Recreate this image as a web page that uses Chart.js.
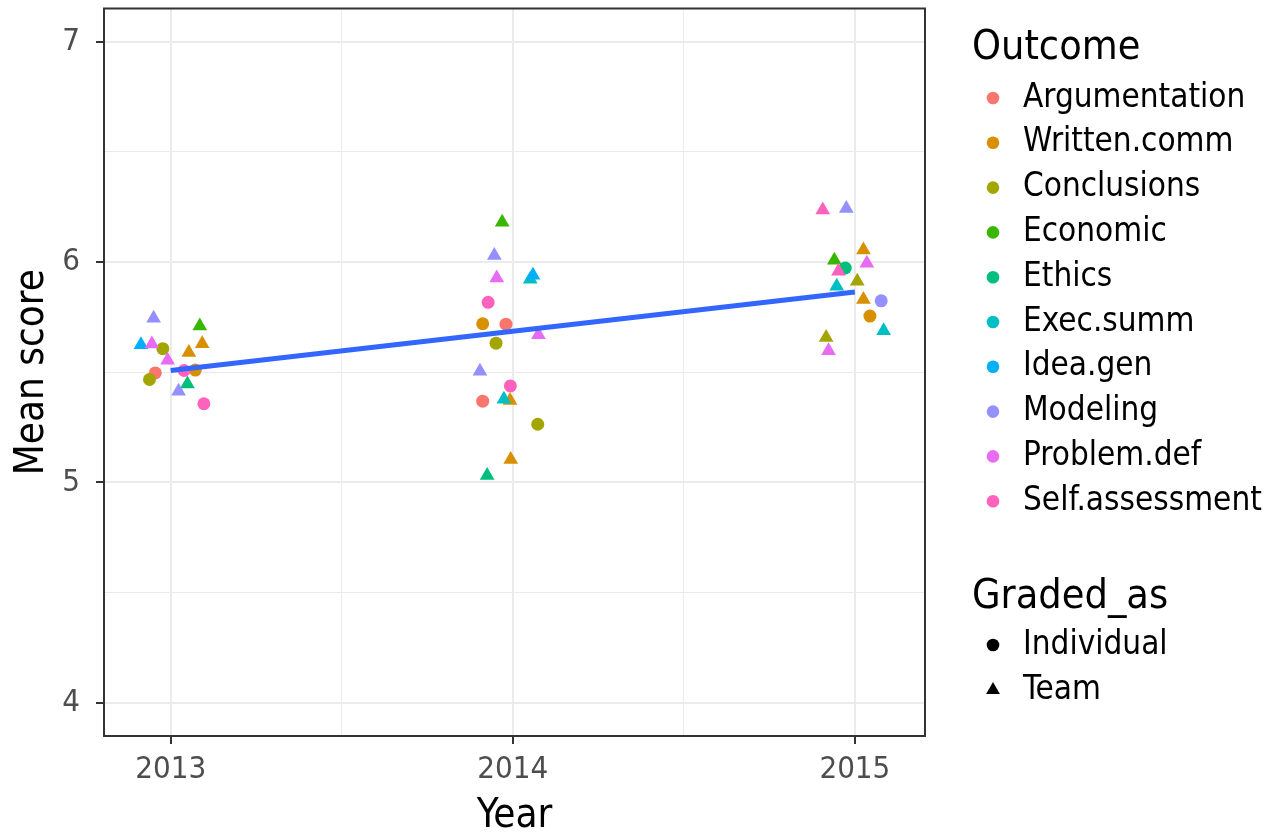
<!DOCTYPE html>
<html>
<head>
<meta charset="utf-8">
<title>Mean score by year</title>
<script src="https://cdn.jsdelivr.net/npm/chart.js@4/dist/chart.umd.min.js"></script>
<style>
  html, body { margin: 0; padding: 0; background: #ffffff; }
  canvas { display: block; }
</style>
</head>
<body>
<canvas id="chart" width="1276" height="834"></canvas>
<script>
// Outcome levels and their hue palette
const outcomes = ['Argumentation', 'Written.comm', 'Conclusions', 'Economic', 'Ethics',
                  'Exec.summ', 'Idea.gen', 'Modeling', 'Problem.def', 'Self.assessment'];
const outcomeColors = ['#F8766D', '#D89000', '#A3A500', '#39B600', '#00BF7D',
                       '#00BFC4', '#00B0F6', '#9590FF', '#E76BF3', '#FF62BC'];
const gradedLevels = ['Individual', 'Team'];

// One entry per observation: survey year, jittered x position, mean score, outcome, grading
const pointYear = [
  2013, 2013, 2013, 2013, 2013, 2013, 2013, 2013, 2013, 2013, 2013, 2013, 2013, 2013, 2013,
  2014, 2014, 2014, 2014, 2014, 2014, 2014, 2014, 2014, 2014, 2014, 2014, 2014, 2014, 2014, 2014, 2014, 2014,
  2015, 2015, 2015, 2015, 2015, 2015, 2015, 2015, 2015, 2015, 2015, 2015, 2015, 2015, 2015
];
const pointX = [
  2012.950, 2013.085, 2012.913, 2012.945, 2012.977, 2013.092, 2013.053, 2012.991,
  2013.072, 2013.039, 2012.955, 2012.938, 2013.049, 2013.023, 2013.097,
  2013.969, 2013.946, 2013.953, 2014.059, 2014.051, 2013.928, 2013.912, 2013.980, 2014.075,
  2013.951, 2013.904, 2013.993, 2013.912, 2013.974, 2013.992, 2014.073, 2013.994, 2013.925,
  2014.906, 2014.975, 2015.025, 2014.940, 2014.972, 2015.035, 2014.952, 2015.007,
  2014.947, 2015.025, 2015.077, 2015.044, 2015.084, 2014.916, 2014.923
];
const pointScore = [
  5.745, 5.710, 5.625, 5.628, 5.607, 5.629, 5.590, 5.555,
  5.510, 5.508, 5.497, 5.467, 5.447, 5.414, 5.357,
  6.180, 6.030, 5.928, 5.940, 5.922, 5.817, 5.720, 5.718, 5.670,
  5.632, 5.505, 5.438, 5.369, 5.377, 5.372, 5.264, 5.104, 5.032,
  6.236, 6.243, 6.055, 6.008, 5.973, 5.995, 5.958, 5.913,
  5.890, 5.830, 5.824, 5.755, 5.688, 5.658, 5.598
];
const pointOutcome = [
  'Modeling', 'Economic', 'Idea.gen', 'Problem.def', 'Conclusions', 'Written.comm', 'Written.comm', 'Problem.def',
  'Written.comm', 'Self.assessment', 'Argumentation', 'Conclusions', 'Ethics', 'Modeling', 'Self.assessment',
  'Economic', 'Modeling', 'Problem.def', 'Idea.gen', 'Exec.summ', 'Self.assessment', 'Written.comm', 'Argumentation', 'Problem.def',
  'Conclusions', 'Modeling', 'Self.assessment', 'Argumentation', 'Exec.summ', 'Written.comm', 'Conclusions', 'Written.comm', 'Ethics',
  'Self.assessment', 'Modeling', 'Written.comm', 'Economic', 'Ethics', 'Problem.def', 'Self.assessment', 'Conclusions',
  'Exec.summ', 'Written.comm', 'Modeling', 'Written.comm', 'Exec.summ', 'Conclusions', 'Problem.def'
];
const pointGraded = [
  'Team', 'Team', 'Team', 'Team', 'Individual', 'Team', 'Team', 'Team',
  'Individual', 'Individual', 'Individual', 'Individual', 'Team', 'Team', 'Individual',
  'Team', 'Team', 'Team', 'Team', 'Team', 'Individual', 'Individual', 'Individual', 'Team',
  'Individual', 'Team', 'Individual', 'Individual', 'Team', 'Team', 'Individual', 'Team', 'Team',
  'Team', 'Team', 'Team', 'Team', 'Individual', 'Team', 'Team', 'Team',
  'Team', 'Team', 'Individual', 'Individual', 'Team', 'Team', 'Team'
];

// Axis breaks
const xGridValues = [2013, 2013.5, 2014, 2014.5, 2015];
const xTickValues = [2013, 2014, 2015];
const xTickLabels = ['2013', '2014', '2015'];
const yGridValues = [4, 4.5, 5, 5.5, 6, 6.5, 7];
const yTickValues = [4, 5, 6, 7];
const yTickLabels = ['4', '5', '6', '7'];

const FONT = '"DejaVu Sans Condensed", "DejaVu Sans", sans-serif';

// Ordinary least squares fit of score on year
function linearFit(xs, ys) {
  const n = xs.length;
  const mx = xs.reduce((a, b) => a + b, 0) / n;
  const my = ys.reduce((a, b) => a + b, 0) / n;
  let sxy = 0, sxx = 0;
  for (let i = 0; i < n; i++) {
    sxy += (xs[i] - mx) * (ys[i] - my);
    sxx += (xs[i] - mx) * (xs[i] - mx);
  }
  const slope = sxy / sxx;
  return x => my + slope * (x - mx);
}
const fit = linearFit(pointYear, pointScore);
const fitStart = Math.min(...pointYear);
const fitEnd = Math.max(...pointYear);

const datasets = [{
  type: 'line',
  label: 'trend',
  data: [{ x: fitStart, y: fit(fitStart) }, { x: fitEnd, y: fit(fitEnd) }],
  borderColor: '#3366FF',
  borderWidth: 5,
  borderCapStyle: 'butt',
  pointRadius: 0,
  fill: false,
  order: 0
}];

outcomes.forEach((name, i) => {
  const idx = [];
  pointOutcome.forEach((o, k) => { if (o === name) idx.push(k); });
  datasets.push({
    type: 'scatter',
    label: name,
    data: idx.map(k => ({ x: pointX[k], y: pointScore[k] })),
    pointStyle: idx.map(k => pointGraded[k] === 'Team' ? 'triangle' : 'circle'),
    pointRadius: idx.map(k => pointGraded[k] === 'Team' ? 8.5 : 6.5),
    backgroundColor: outcomeColors[i],
    borderWidth: 0,
    order: outcomes.length - i
  });
});

const gridColor = '#ebebeb';
function gridWidth(major) { return c => major.includes(c.tick.value) ? 2 : 1; }
function tickMarkColor(major) { return c => major.includes(c.tick.value) ? '#333333' : 'rgba(0,0,0,0)'; }

// Panel border and the two-part legend on the right
const panelAndLegend = {
  id: 'panelAndLegend',
  afterDraw(chart) {
    const { ctx, chartArea: a } = chart;
    ctx.save();
    ctx.strokeStyle = '#333333';
    ctx.lineWidth = 2;
    ctx.strokeRect(a.left, a.top, a.right - a.left, a.bottom - a.top);

    ctx.fillStyle = '#000000';
    ctx.textAlign = 'left';
    ctx.textBaseline = 'middle';
    ctx.font = '41px ' + FONT;
    ctx.fillText('Outcome', 972, 48);

    const rowStart = 98, rowStep = 44.8, keyX = 993, textX = 1023;
    outcomes.forEach((name, i) => {
      const y = rowStart + i * rowStep;
      ctx.fillStyle = outcomeColors[i];
      ctx.beginPath();
      ctx.arc(keyX, y, 6.3, 0, Math.PI * 2);
      ctx.fill();
      ctx.fillStyle = '#000000';
      ctx.font = '33px ' + FONT;
      ctx.fillText(name, textX, y);
    });

    ctx.font = '41px ' + FONT;
    ctx.fillText('Graded_as', 972, 597);
    gradedLevels.forEach((name, i) => {
      const y = 645 + i * 45;
      ctx.fillStyle = '#000000';
      if (name === 'Team') {
        const r = 8;
        ctx.beginPath();
        ctx.moveTo(keyX, y - r);
        ctx.lineTo(keyX + r * Math.sqrt(3) / 2, y + r / 2);
        ctx.lineTo(keyX - r * Math.sqrt(3) / 2, y + r / 2);
        ctx.closePath();
        ctx.fill();
      } else {
        ctx.beginPath();
        ctx.arc(keyX, y, 6.3, 0, Math.PI * 2);
        ctx.fill();
      }
      ctx.font = '33px ' + FONT;
      ctx.fillText(name, textX, y);
    });
    ctx.restore();
  }
};

new Chart(document.getElementById('chart'), {
  data: { datasets },
  plugins: [panelAndLegend],
  options: {
    responsive: false,
    animation: false,
    events: [],
    layout: { padding: { left: 0, right: 351, top: 5, bottom: 0 } },
    plugins: { legend: { display: false }, tooltip: { enabled: false } },
    scales: {
      x: {
        type: 'linear',
        position: 'bottom',
        min: 2012.805,
        max: 2015.205,
        afterBuildTicks: s => { s.ticks = xGridValues.map(v => ({ value: v })); },
        afterFit: s => { s.height = 98; s.paddingLeft = 0; s.paddingRight = 0; },
        border: { display: false },
        grid: {
          color: gridColor,
          lineWidth: gridWidth(xTickValues),
          drawTicks: true,
          tickLength: 8,
          tickWidth: 2,
          tickColor: tickMarkColor(xTickValues)
        },
        ticks: {
          autoSkip: false,
          maxRotation: 0,
          padding: 7,
          color: '#4d4d4d',
          font: { family: FONT, size: 31, lineHeight: 1.2 },
          callback: v => { const i = xTickValues.indexOf(v); return i >= 0 ? xTickLabels[i] : ''; }
        },
        title: {
          display: true,
          text: 'Year',
          color: '#000000',
          font: { family: FONT, size: 40, lineHeight: 0.85 },
          padding: { top: 0, bottom: 0 }
        }
      },
      y: {
        type: 'linear',
        position: 'left',
        min: 3.85,
        max: 7.15,
        afterBuildTicks: s => { s.ticks = yGridValues.map(v => ({ value: v })); },
        afterFit: s => { s.width = 104; s.paddingTop = 0; s.paddingBottom = 0; },
        border: { display: false },
        grid: {
          color: gridColor,
          lineWidth: gridWidth(yTickValues),
          drawTicks: true,
          tickLength: 8,
          tickWidth: 2,
          tickColor: tickMarkColor(yTickValues)
        },
        ticks: {
          autoSkip: false,
          padding: 16,
          color: '#4d4d4d',
          font: { family: FONT, size: 31, lineHeight: 1.2 },
          callback: v => { const i = yTickValues.indexOf(v); return i >= 0 ? yTickLabels[i] : ''; }
        },
        title: {
          display: true,
          text: 'Mean score',
          color: '#000000',
          font: { family: FONT, size: 40, lineHeight: 1 },
          padding: { top: 13, bottom: 0 }
        }
      }
    }
  }
});
</script>
</body>
</html>
